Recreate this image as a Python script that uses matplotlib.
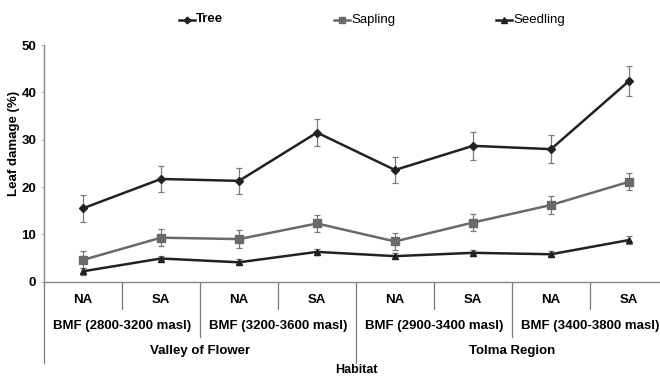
import matplotlib
matplotlib.use("Agg")
import matplotlib.pyplot as plt
from matplotlib.lines import Line2D
import numpy as np

plt.rcParams['font.family'] = ['Liberation Sans Narrow', 'Liberation Sans', 'DejaVu Sans']

sites = ["NA", "SA", "NA", "SA", "NA", "SA", "NA", "SA"]
forests = ["BMF (2800-3200 masl)", "BMF (3200-3600 masl)",
           "BMF (2900-3400 masl)", "BMF (3400-3800 masl)"]
regions = ["Valley of Flower", "Tolma Region"]

tree = [15.5, 21.7, 21.3, 31.5, 23.6, 28.7, 28.0, 42.4]
tree_err = [2.9, 2.8, 2.8, 2.8, 2.8, 2.9, 2.9, 3.1]
sapling = [4.6, 9.3, 9.0, 12.3, 8.5, 12.5, 16.2, 21.1]
sapling_err = [1.8, 1.8, 1.9, 1.7, 1.7, 1.8, 1.8, 1.8]
seedling = [2.2, 4.9, 4.1, 6.3, 5.4, 6.1, 5.8, 8.8]
seedling_err = [0.7, 0.6, 0.6, 0.7, 0.7, 0.7, 0.6, 0.8]
yticks = [0, 10, 20, 30, 40, 50]

W, H = 660, 376
fig = plt.figure(figsize=(6.6, 3.76), dpi=100)
ax = fig.add_axes([44 / W, (H - 281.7) / H, 624 / W, 236.7 / H])

x = np.arange(len(sites))
series = [
    ("Tree", tree, tree_err, "#222222", "D", 4),
    ("Sapling", sapling, sapling_err, "#6a6a6a", "s", 5.5),
    ("Seedling", seedling, seedling_err, "#222222", "^", 5),
]
for name, vals, err, col, mk, ms in series:
    ax.errorbar(x, vals, yerr=err, fmt='none', ecolor='#7a7a7a',
                elinewidth=0.9, capsize=2.2, capthick=0.9, zorder=2)
    ax.plot(x, vals, color=col, lw=1.8, marker=mk, ms=ms, zorder=3)

ax.set_xlim(-0.5, 7.5)
ax.set_ylim(0, 50)
ax.set_yticks(yticks)
ax.set_yticklabels([str(v) for v in yticks], fontsize=9.5, fontweight='bold')
ax.set_xticks([])
for s in ["top", "right"]:
    ax.spines[s].set_visible(False)
ax.spines["left"].set_color("#888888")
ax.spines["bottom"].set_color("#888888")
ax.spines["left"].set_linewidth(1.0)
ax.spines["bottom"].set_linewidth(1.0)
ax.tick_params(axis='y', length=2.5, width=0.6, color="#aaaaaa", pad=3)

tr = ax.get_xaxis_transform()
lc = "#7a7a7a"
def vline(xv, y0, y1):
    ax.add_line(Line2D([xv, xv], [y0, y1], transform=tr, color=lc, lw=0.9, clip_on=False))

vline(-0.5, 0, -0.344)
vline(3.5, 0, -0.344)
for xv in [1.5, 5.5]:
    vline(xv, 0, -0.234)
for xv in [0.5, 2.5, 4.5, 6.5]:
    vline(xv, 0, -0.115)

for i, s in enumerate(sites):
    ax.text(i, -0.077, s, transform=tr, ha='center', va='center',
            fontsize=9.5, fontweight='bold')
for j, f in enumerate(forests):
    ax.text(2 * j + 0.5, -0.186, f, transform=tr, ha='center', va='center',
            fontsize=9.5, fontweight='bold')
for k, r in enumerate(regions):
    ax.text(4 * k + 1.5, -0.293, r, transform=tr, ha='center', va='center',
            fontsize=9.5, fontweight='bold')
fig.text(356 / W, 1 - 370 / H, "Habitat", ha='center', va='center',
         fontsize=9, fontweight='bold')

fig.text(14 / W, 1 - 143 / H, "Leaf damage (%)", rotation=90, ha='center',
         va='center', fontsize=9.5, fontweight='bold')

# legend
leg = [(179, "Tree", 'bold'), (334, "Sapling", 'normal'), (496, "Seedling", 'normal')]
for (x0, lab, fw), (name, vals, err, col, mk, ms) in zip(leg, series):
    yy = 1 - 19.5 / H
    fig.add_artist(Line2D([x0 / W, (x0 + 16) / W], [yy, yy], color=col, lw=1.8,
                          transform=fig.transFigure))
    fig.add_artist(Line2D([(x0 + 8) / W], [yy], color=col, marker=mk, ms=ms * 0.85,
                          transform=fig.transFigure))
    fig.text((x0 + 17) / W, yy, lab, ha='left', va='center', fontsize=9.5,
             fontweight=fw)

fig.savefig("out.png", dpi=100)
